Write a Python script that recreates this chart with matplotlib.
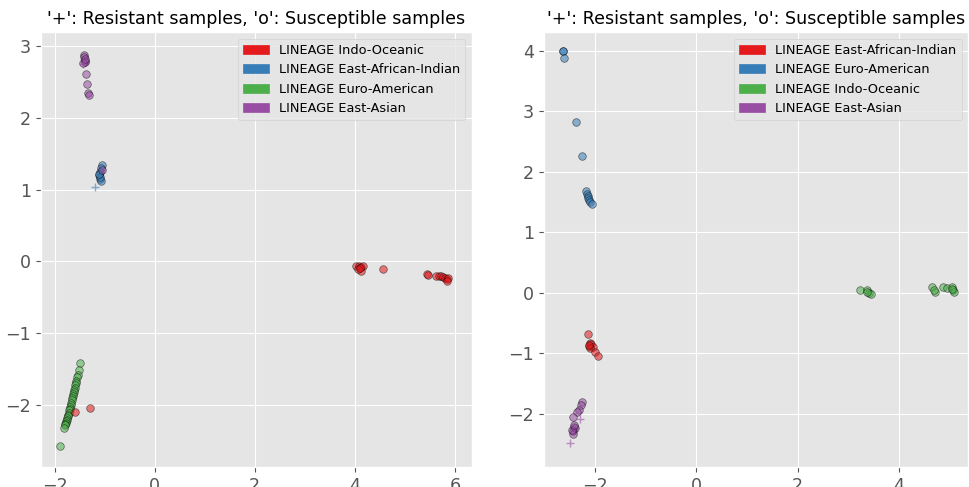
import matplotlib
matplotlib.use('Agg')
import matplotlib.pyplot as plt
import matplotlib.patches as mpatches
import numpy as np

plt.style.use('ggplot')

TITLE = "'+': Resistant samples, 'o': Susceptible samples"
COLORS = ['#e41a1c', '#377eb8', '#4daf4a', '#984ea3']
DRAW_ORDER = [2, 1, 0, 3]

# left panel: lineage names and 2-D embedding per lineage
left_names = ['Indo-Oceanic', 'East-African-Indian', 'Euro-American', 'East-Asian']
left_sus = {
    0: ([4.03, 4.08, 4.12, 4.17, 4.13, 4.06, 4.10, 4.57, 5.45, 5.47, 5.63, 5.68, 5.72, 5.76, 5.80, 5.84, 5.87, 5.85, -1.60, -1.29],
        [-0.07, -0.06, -0.08, -0.07, -0.14, -0.10, -0.09, -0.11, -0.17, -0.19, -0.20, -0.20, -0.21, -0.22, -0.23, -0.25, -0.23, -0.28, -2.10, -2.04]),
    1: ([-1.05, -1.07, -1.10, -1.12, -1.10, -1.08, -1.09, -1.11],
        [1.35, 1.30, 1.25, 1.20, 1.15, 1.12, 1.18, 1.22]),
    2: ([-1.49, -1.52, -1.54, -1.55, -1.57, -1.58, -1.59, -1.60, -1.61, -1.62, -1.63, -1.64, -1.65,
         -1.66, -1.67, -1.68, -1.69, -1.70, -1.71, -1.72, -1.73, -1.74, -1.75, -1.76, -1.77, -1.78,
         -1.79, -1.80, -1.81, -1.89],
        [-1.42, -1.52, -1.58, -1.62, -1.67, -1.70, -1.73, -1.76, -1.79, -1.82, -1.85, -1.88, -1.91,
         -1.94, -1.97, -2.00, -2.03, -2.06, -2.08, -2.11, -2.14, -2.16, -2.19, -2.21, -2.23, -2.25,
         -2.27, -2.29, -2.32, -2.58]),
    3: ([-1.42, -1.41, -1.40, -1.39, -1.43, -1.40, -1.37, -1.35, -1.33, -1.32, -1.05],
        [2.88, 2.85, 2.80, 2.78, 2.77, 2.82, 2.62, 2.47, 2.35, 2.32, 1.28]),
}
left_res = {
    1: ([-1.20], [1.04]),
    3: ([-1.44], [2.76]),
}

# right panel
right_names = ['East-African-Indian', 'Euro-American', 'Indo-Oceanic', 'East-Asian']
right_sus = {
    0: ([-2.15, -2.10, -2.12, -2.08, -2.05, -2.11, -2.00, -1.95, -2.13],
        [-0.68, -0.83, -0.88, -0.85, -0.90, -0.92, -0.97, -1.04, -0.86]),
    1: ([-2.64, -2.63, -2.61, -2.38, -2.27, -2.18, -2.17, -2.15, -2.14, -2.12, -2.10, -2.07],
        [4.00, 3.99, 3.88, 2.83, 2.27, 1.69, 1.64, 1.60, 1.57, 1.54, 1.51, 1.47]),
    2: ([3.23, 3.37, 3.42, 3.45, 3.38, 4.65, 4.72, 4.70, 4.88, 4.95, 5.05, 5.08, 5.10, 5.06],
        [0.05, 0.05, 0.00, -0.02, 0.02, 0.09, 0.02, 0.05, 0.10, 0.08, 0.09, 0.04, 0.02, 0.06]),
    3: ([-2.26, -2.28, -2.32, -2.36, -2.44, -2.41, -2.44, -2.40, -2.43, -2.46, -2.42],
        [-1.80, -1.86, -1.93, -1.97, -2.05, -2.21, -2.29, -2.24, -2.33, -2.27, -2.18]),
}
right_res = {
    3: ([-2.31, -2.50], [-2.08, -2.48]),
}


def draw_panel(ax, names, sus, res):
    for k in DRAW_ORDER:
        if k in sus:
            xs, ys = sus[k]
            ax.scatter(xs, ys, c=COLORS[k], marker='o', s=30, alpha=0.55,
                       edgecolors='black', linewidths=0.5)
    for k, (xs, ys) in res.items():
        ax.scatter(xs, ys, c=COLORS[k], marker='+', s=35, alpha=0.6, linewidths=1.0)
    handles = [mpatches.Patch(color=COLORS[i], label='LINEAGE ' + n) for i, n in enumerate(names)]
    ax.legend(handles=handles, loc='upper right', fontsize=9.3)
    ax.set_title(TITLE, fontsize=12.6)
    ax.tick_params(labelsize=12.6)


fig = plt.figure(figsize=(9.69, 4.87), dpi=100)
ax1 = fig.add_axes([0.042, 0.041, 0.445, 0.893])
ax2 = fig.add_axes([0.561, 0.041, 0.438, 0.893])
draw_panel(ax1, left_names, left_sus, left_res)
draw_panel(ax2, right_names, right_sus, right_res)
ax1.set_xlim(-2.28, 6.34)
ax1.set_ylim(-2.87, 3.2)
ax2.set_xlim(-3.02, 5.37)
ax2.set_ylim(-2.88, 4.31)
ax1.set_yticks(np.arange(-2, 4))
ax2.set_yticks(np.arange(-2, 5))

plt.savefig('out.png')
